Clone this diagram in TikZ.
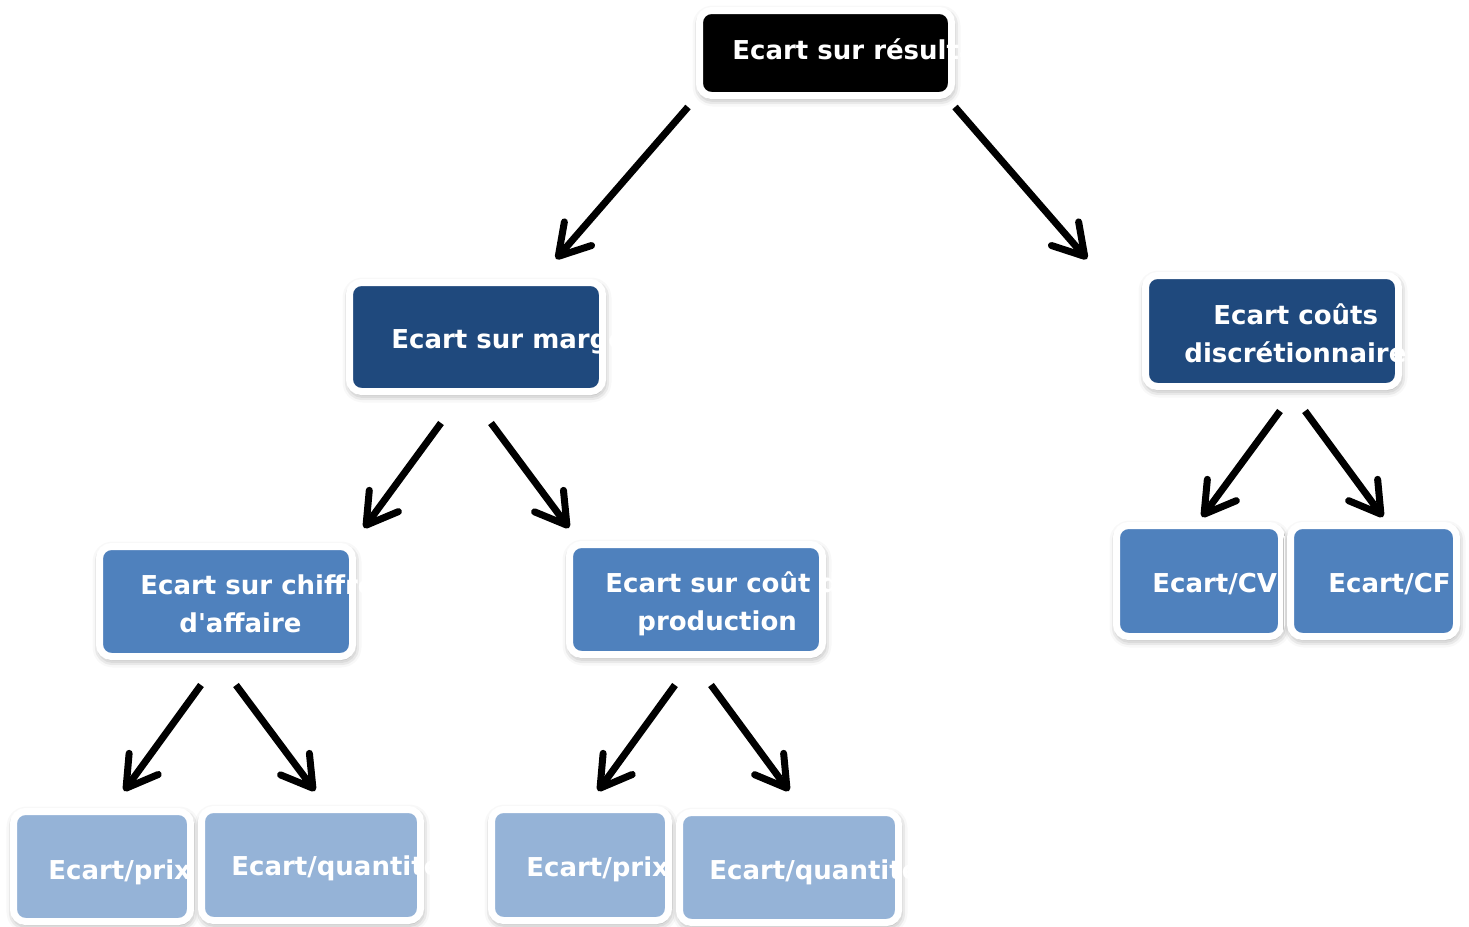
\documentclass[tikz,border=0pt]{standalone}
\usepackage{fontspec}
\setmainfont{DejaVu Sans}
\usetikzlibrary{arrows.meta, shadows.blur}

\definecolor{noir}{RGB}{0,0,0}
\definecolor{bleufonce}{RGB}{31,73,125}
\definecolor{bleu}{RGB}{79,129,189}
\definecolor{bleuclair}{RGB}{149,179,215}

\tikzset{
  boite/.style={draw=white, line width=3.5pt, rounded corners=6pt, inner sep=0pt,
    blur shadow={shadow xshift=0.5pt, shadow yshift=-1.5pt, shadow opacity=45, shadow blur radius=4pt}},
  texte/.style={text=white, font=\fontsize{13}{19}\selectfont\bfseries, inner sep=0pt,
    anchor=base west, align=left},
  fleche/.style={line width=3.5pt, -{Straight Barb[length=15pt, width=18pt, round]}}
}

\begin{document}
\begin{tikzpicture}[x=0.5pt, y=-0.5pt]
\useasboundingbox (0,0) rectangle (1469,927);

% Boxes
\node[boite, fill=noir, minimum width=126pt, minimum height=42.5pt] (resultat) at (825.5,53) {};
\node[boite, fill=bleufonce, minimum width=126.5pt, minimum height=54.5pt] (marge) at (476,337) {};
\node[boite, fill=bleufonce, minimum width=126.5pt, minimum height=55.5pt] (discr) at (1272,331) {};
\node[boite, fill=bleu, minimum width=126.5pt, minimum height=55pt] (ca) at (226,601.5) {};
\node[boite, fill=bleu, minimum width=126.5pt, minimum height=55pt] (prod) at (696,599.5) {};
\node[boite, fill=bleu, minimum width=82.5pt, minimum height=55.5pt] (cv) at (1199,581) {};
\node[boite, fill=bleu, minimum width=83pt, minimum height=55.5pt] (cf) at (1373.5,581) {};
\node[boite, fill=bleuclair, minimum width=88.5pt, minimum height=55pt] (caprix) at (102,866.5) {};
\node[boite, fill=bleuclair, minimum width=109.5pt, minimum height=55.5pt] (caqte) at (311,865) {};
\node[boite, fill=bleuclair, minimum width=88.5pt, minimum height=55.5pt] (prodprix) at (580,865) {};
\node[boite, fill=bleuclair, minimum width=109.5pt, minimum height=55pt] (prodqte) at (789,867.5) {};

% Texts (base = last line)
\node[texte] (resultat-t) at (732,59) {Ecart sur résultat};
\node[texte] (marge-t) at (391,348) {Ecart sur marge};
\node[texte] (discr-t) at (1184,362) {\hspace*{14.5pt}Ecart coûts\\discrétionnaires};
\node[texte] (ca-t) at (140,632) {Ecart sur chiffre\\\hspace*{19.5pt}d\textquotesingle affaire};
\node[texte] (prod-t) at (605,630) {Ecart sur coût de\\\hspace*{16pt}production};
\node[texte] (cv-t) at (1152,592) {Ecart/CV};
\node[texte] (cf-t) at (1328,592) {Ecart/CF};
\node[texte] (caprix-t) at (48,879) {Ecart/prix};
\node[texte] (caqte-t) at (231,875) {Ecart/quantité};
\node[texte] (prodprix-t) at (526,876) {Ecart/prix};
\node[texte] (prodqte-t) at (709,879) {Ecart/quantité};

% Arrow ends
\coordinate (r1) at (688,107);   \coordinate (m0) at (556,259);
\coordinate (r2) at (955,107);   \coordinate (d0) at (1087,259);
\coordinate (m1) at (441,423);   \coordinate (c0) at (364,528);
\coordinate (m2) at (491,423);   \coordinate (p0) at (569,528);
\coordinate (d1) at (1280,411);  \coordinate (v0) at (1202,517);
\coordinate (d2) at (1305,411);  \coordinate (f0) at (1383,517);
\coordinate (c1) at (201,685);   \coordinate (cp0) at (124,791);
\coordinate (c2) at (236,685);   \coordinate (cq0) at (315,791);
\coordinate (p1) at (675,685);   \coordinate (pp0) at (598,791);
\coordinate (p2) at (711,685);   \coordinate (pq0) at (789,791);

% Arrows
\draw[fleche] (r1) -- (m0);
\draw[fleche] (r2) -- (d0);
\draw[fleche] (m1) -- (c0);
\draw[fleche] (m2) -- (p0);
\draw[fleche] (d1) -- (v0);
\draw[fleche] (d2) -- (f0);
\draw[fleche] (c1) -- (cp0);
\draw[fleche] (c2) -- (cq0);
\draw[fleche] (p1) -- (pp0);
\draw[fleche] (p2) -- (pq0);

\end{tikzpicture}
\end{document}
